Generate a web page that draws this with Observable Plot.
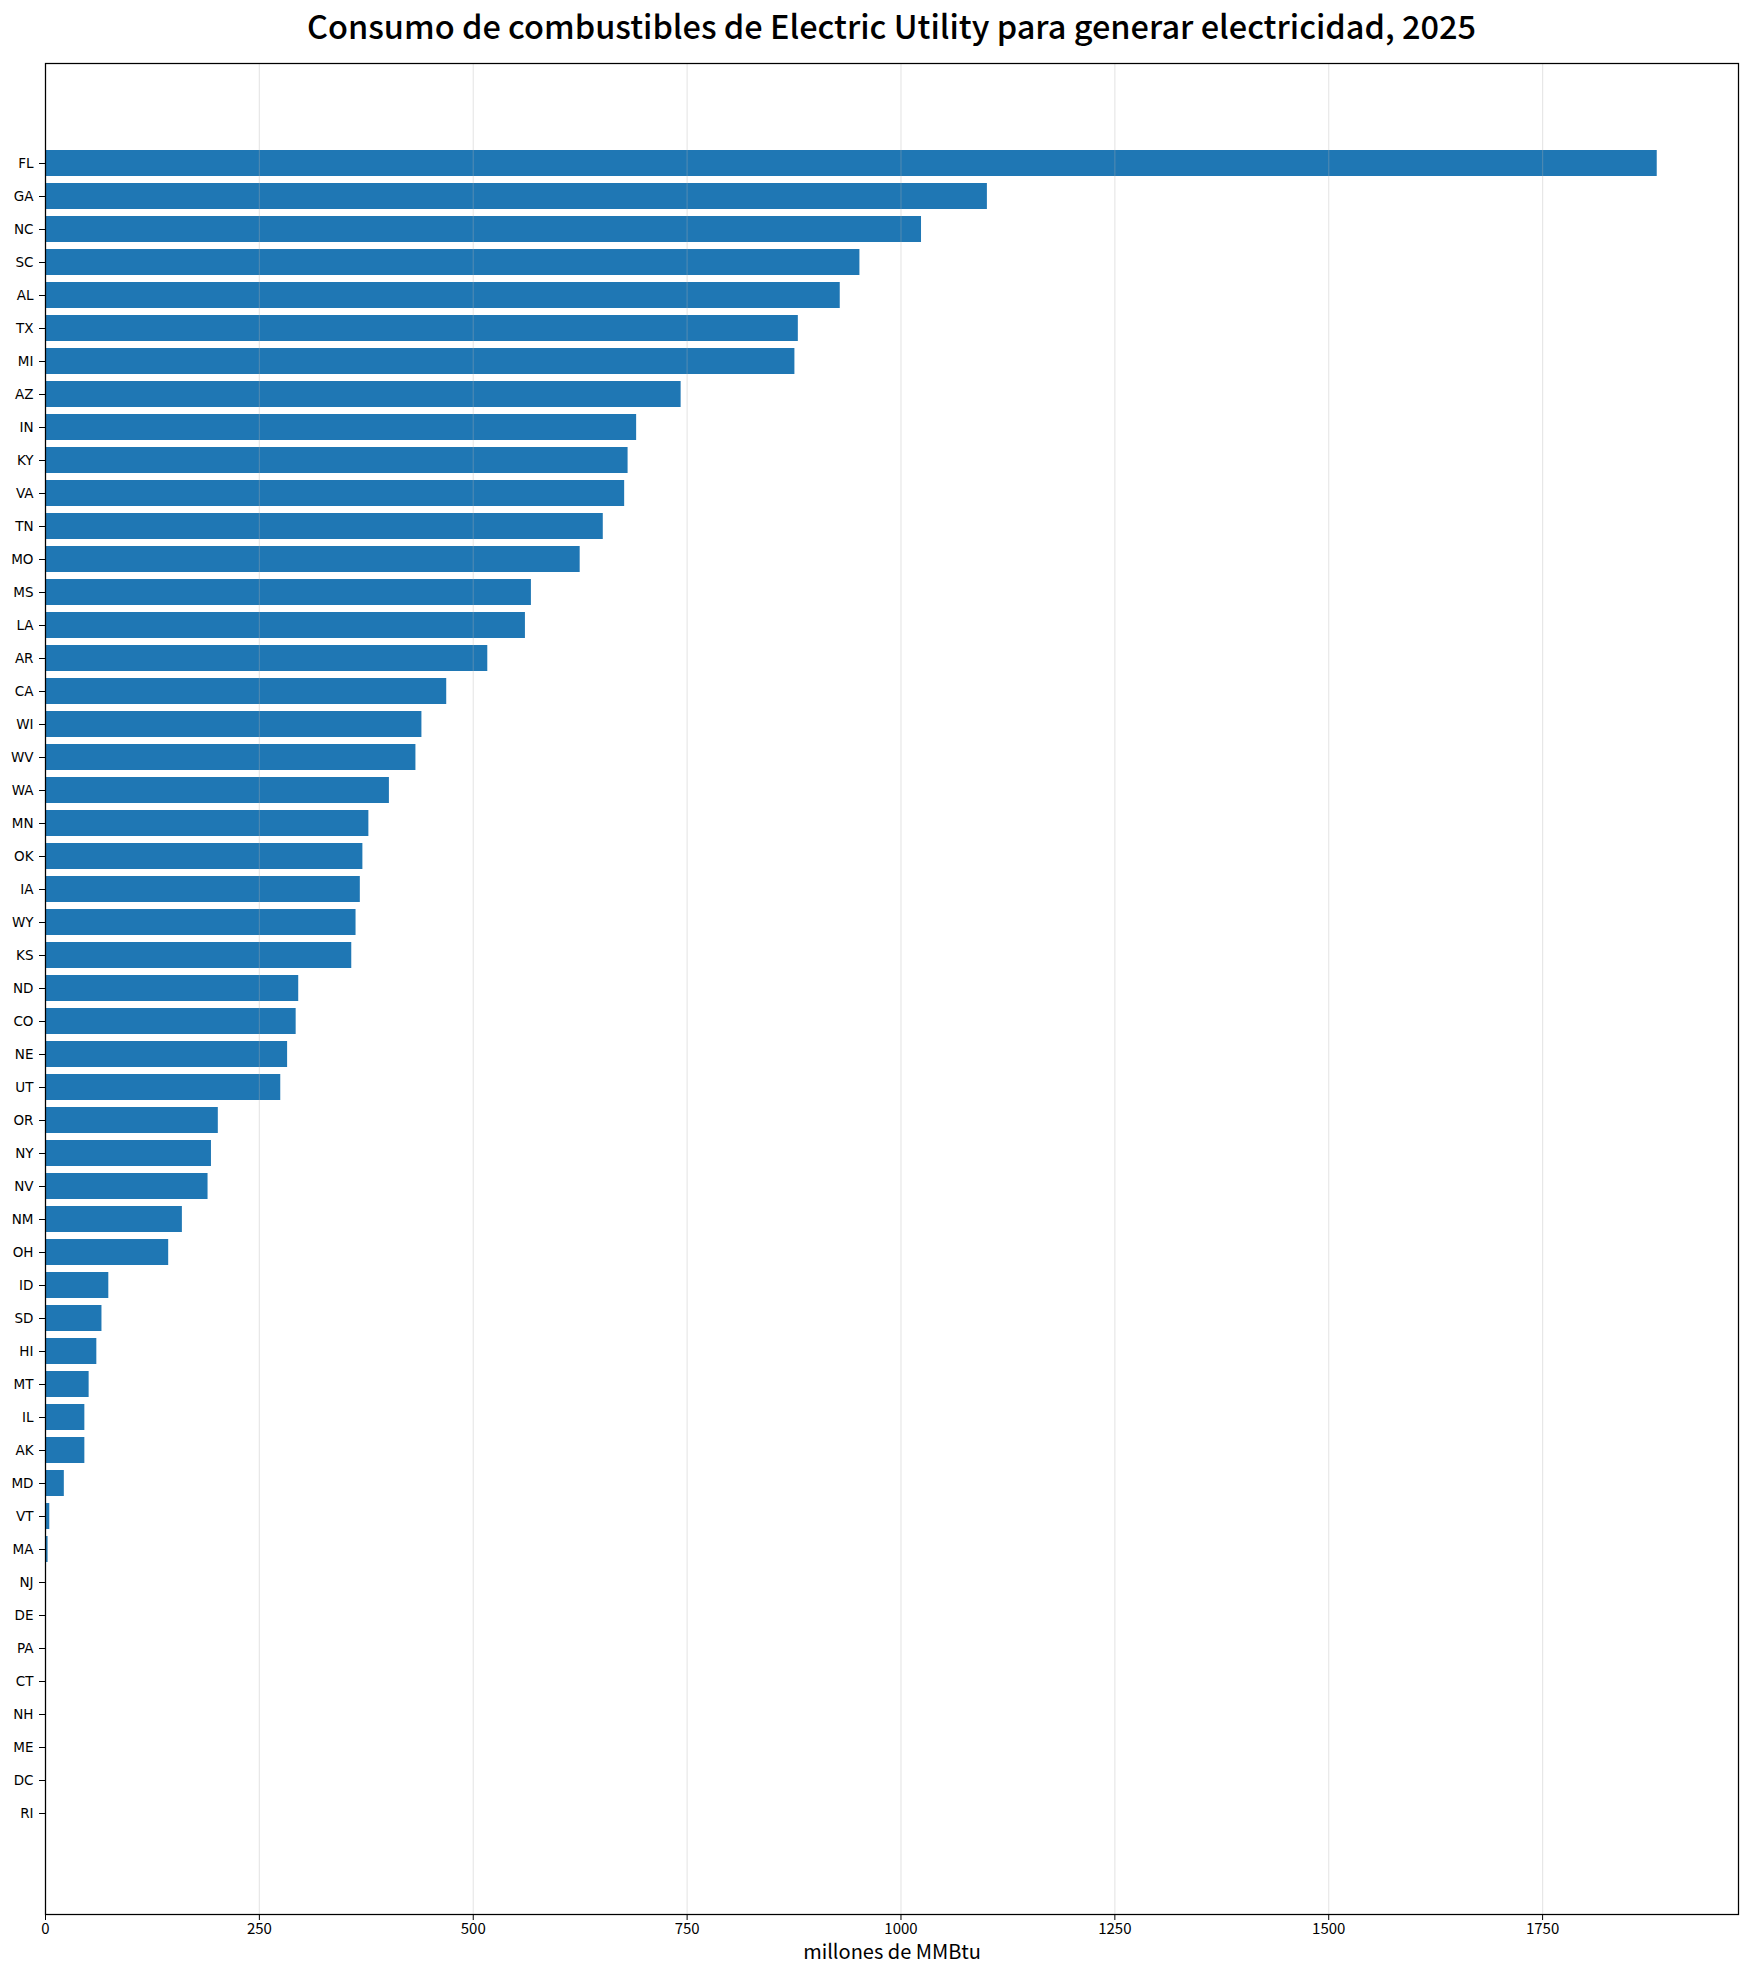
<!DOCTYPE html>
<html>
<head>
<meta charset="utf-8">
<script src="https://cdn.jsdelivr.net/npm/d3@7"></script>
<script src="https://cdn.jsdelivr.net/npm/@observablehq/plot@0.6"></script>
<style>
  html, body { margin: 0; padding: 0; background: #fff; }
  #wrap { position: relative; width: 1749px; height: 1970px; }
  #title { position: absolute; left: 45px; top: 3px; width: 1693px; text-align: center;
    font-family: "Noto Sans CJK KR", "Noto Sans", sans-serif; font-weight: 500; font-size: 32.5px; line-height: 44px; color: #000; white-space: nowrap; }
  #chart { position: absolute; left: 0; top: 0; }
  #chart svg { font-family: "DejaVu Sans", sans-serif; }
</style>
</head>
<body>
<div id="wrap">
  <div id="chart"></div>
  <div id="title">Consumo de combustibles de Electric Utility para generar electricidad, 2025</div>
</div>
<script>
const states = ["FL","GA","NC","SC","AL","TX","MI","AZ","IN","KY","VA","TN","MO","MS","LA","AR","CA","WI","WV","WA","MN","OK","IA","WY","KS","ND","CO","NE","UT","OR","NY","NV","NM","OH","ID","SD","HI","MT","IL","AK","MD","VT","MA","NJ","DE","PA","CT","NH","ME","DC","RI"];
const values = [1884,1101,1024,952,929,880,876,743,691,681,677,652,625,568,561,517,469,440,433,402,378,371,368,363,358,296,293,283,275,202,194,190,160,144,74,66,60,51,46,46,22,5,3,0,0,0,0,0,0,0,0];
const xTicks = [0,250,500,750,1000,1250,1500,1750];
const xLabel = "millones de MMBtu";

const data = states.map((s, i) => ({state: s, value: values[i]}));

const chart = Plot.plot({
  width: 1749,
  height: 1970,
  marginLeft: 45,
  marginRight: 11,
  marginTop: 63,
  marginBottom: 56,
  style: {fontFamily: "DejaVu Sans, sans-serif", fontSize: "13px", color: "#000", background: "#fff"},
  x: {domain: [0, 1979], ticks: xTicks},
  y: {domain: states, paddingInner: 0.2, paddingOuter: 2.54, align: 0.5},
  marks: [
    Plot.barX(data, {x: "value", y: "state", fill: "#1f77b4"}),
    Plot.gridX(xTicks, {stroke: "#b0b0b0", strokeOpacity: 0.3, strokeWidth: 1.2}),
    Plot.axisY({tickSize: 6, tickPadding: 6, fontSize: 13.5, label: null, stroke: "#000"}),
    Plot.axisX(xTicks, {tickSize: 6, tickPadding: 3, fontSize: 15, tickFormat: d => String(d),
      fontFamily: "Noto Sans CJK KR, sans-serif",
      label: xLabel, labelAnchor: "center", labelArrow: "none", labelOffset: 44}),
    Plot.frame({stroke: "#000", strokeWidth: 1.25})
  ]
});
document.getElementById("chart").appendChild(chart);
// style the x axis label
chart.querySelectorAll("g[aria-label='x-axis label'] text").forEach(t => {
  t.setAttribute("font-size", "20");
  t.style.fontSize = "20px";
  t.style.fontFamily = "Noto Sans CJK KR, sans-serif";
});
</script>
</body>
</html>
